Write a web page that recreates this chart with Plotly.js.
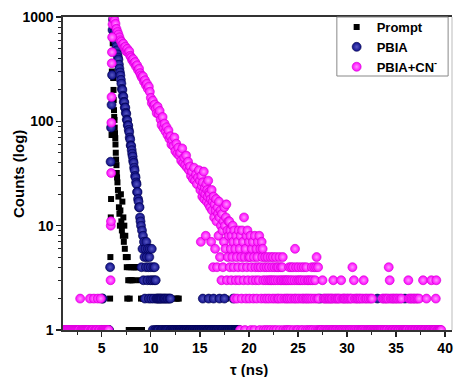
<!DOCTYPE html>
<html><head><meta charset="utf-8">
<script src="https://cdn.plot.ly/plotly-3.0.1.min.js"></script>
<style>html,body{margin:0;padding:0;background:#fff}#chart{width:454px;height:377px}</style>
</head><body><div id="chart"></div>
<script>
// ---------- Series names ----------
const seriesNames = ['Prompt', 'PBIA', 'PBIA+CN<sup>-</sup>'];

// ---------- Prompt (instrument response), explicit time (ns) / counts ----------
const promptT = [5.85,5.88,5.92,5.95,5.98,6.00,6.03,6.05,6.08,6.10,6.12,6.14,6.17,6.20,6.22,6.25,6.27,6.30,6.32,6.35,
  6.38,6.40,6.43,6.46,6.50,6.53,6.56,6.60,6.65,6.70,6.75,6.80,6.85,6.90,6.95,
  7.00,7.05,7.10,7.15,7.20,7.25,7.30,7.35,7.40,7.45,7.50,7.55,7.60,7.65,7.70,7.75,7.80,7.85,7.90,7.95,
  8.00,8.05,8.10,8.15,8.20,8.25,8.30,8.35,8.40,8.45,8.50,8.55,8.60,8.65,8.70,8.75,8.80,8.85,8.90,8.95,
  9.00,9.10,9.20,9.40,10.20,11.00,11.80,12.55,12.70,12.85,17.65];
const promptC = [2,5,12,18,40,74,300,750,1000,700,560,450,260,200,160,128,110,103,87,77,
  69,60,50,43,38,32,29,26,22,19,15,13,10,14,20,
  11,9,17,8,12,7,10,6,8,5,5,4,2,5,3,1,4,2,3,1,
  4,3,1,4,3,1,4,1,4,1,4,1,1,4,1,1,3,1,1,1,
  2,1,2,2,2,2,2,2,2,2,2];

// ---------- PBIA: channels from 5.00 ns every 0.05 ns ----------
const pbiaStart = 5.0, pbiaStep = 0.05;
const pbiaCounts = [
  1,2,2,1,0,1,1,0,1,1,0,1,1,0,1,1,0,4,41,87,
  144,278,750,940,990,900,800,720,640,580,520,480,440,410,390,350,320,295,275,250,
  230,205,200,176,172,154,152,136,135,121,118,104,102,92,91,83,79,70,67,59,
  58,53,49,46,42,40,36,34,30,29,26,25,21,21,18,17,15,15,12,11,
  10,4,9,6,8,3,7,5,2,6,4,7,5,3,6,4,2,5,6,3,
  4,2,6,3,1,4,2,3,4,1,3,2,1,2,1,2,1,2,0,2,
  1,2,1,2,1,0,2,1,2,1,2,1,1,2,1,2,1,0,2,1,
  2,1,1,0,1,1,0,1,1,1,0,1,1,0,1,1,1,0,1,1,
  1,1,0,1,1,1,0,1,1,1,1,0,1,1,1,1,0,1,1,1,
  1,1,1,0,1,1,1,1,0,1,1,1,1,0,1,1,1,1,0,1,
  1,1,0,1,1,1,2,1,1,0,1,1,1,0,1,1,1,1,2,1,
  1,0,1,1,1,1,0,1,2,1,1,1,0,1,1,1,1,0,1,1,
  2,1,1,0,1,1,1,1,0,1,2,1,1,1,0,1,1,1,1,0,
  1,1,1,0,1,1,1,1,2,1,1,0,1,1,1,1,1,0,1,1,
  1];
const pbiaTailT = [27.25, 33.10, 35.90];
const pbiaTailC = [2, 2, 2];

// ---------- PBIA+CN-: 1.0-14.9 ns every 0.1 ns ----------
const cnStartA = 1.0, cnStepA = 0.1;
const cnCountsA = [
  1,1,1,1,1,1,1,1,1,1,
  1,1,1,1,1,1,1,1,2,1,
  1,1,1,1,1,1,1,1,2,1,
  1,1,2,1,1,1,2,1,1,2,
  1,1,1,1,1,1,1,1,0,0,
  0,850,980,930,860,770,720,680,640,600,
  580,545,555,510,520,470,495,455,470,425,
  410,385,395,360,370,335,345,310,320,290,
  275,262,270,240,248,222,230,205,215,192,
  168,150,158,140,145,132,120,138,118,126,
  104,92,110,86,95,80,88,74,82,68,
  72,60,66,58,70,52,61,49,56,47,
  50,42,55,40,45,38,47,36,41,34,
  37,30,33,28,36,27,31,25,29,34];
// ---------- PBIA+CN-: 15.00-40.00 ns every 0.05 ns ----------
const cnStartB = 15.0, cnStepB = 0.05;
const cnCountsB = [
  27,22,7,30,24,19,26,21,33,18,23,20,8,25,17,22,19,27,16,21,
  20,15,18,7,22,14,17,4,19,12,16,6,14,18,11,4,15,13,8,17,
  12,5,14,10,3,13,9,4,11,7,15,10,6,12,16,3,9,5,11,8,
  11,4,9,6,3,8,5,10,7,4,9,2,6,3,8,5,2,7,4,9,
  3,6,1,8,5,2,9,4,7,3,12,5,1,6,2,8,4,9,3,5,
  7,2,5,8,1,4,6,3,7,2,5,1,8,4,3,6,2,5,7,4,
  3,8,1,6,4,2,7,5,6,3,1,4,2,5,3,1,4,2,5,3,
  1,4,2,3,5,1,3,4,2,5,3,1,4,2,3,5,1,4,2,3,
  4,2,5,1,3,4,2,3,4,5,1,3,2,0,3,1,2,3,1,2,
  3,1,4,2,3,1,4,2,3,0,4,1,2,3,6,2,4,1,3,2,
  1,4,3,2,0,3,1,4,2,3,1,2,4,0,3,2,1,4,2,3,
  1,2,3,0,1,2,3,1,4,2,3,1,0,4,2,3,1,4,5,2,
  1,4,2,1,0,1,0,1,1,1,3,0,2,1,0,2,1,2,0,1,
  2,1,0,2,1,2,1,0,2,1,2,1,3,1,2,0,1,2,1,0,
  2,1,2,0,1,2,1,0,3,1,2,1,0,2,1,2,0,1,2,1,
  0,2,1,0,2,1,1,2,0,1,2,4,1,0,3,1,2,1,0,2,
  1,0,2,1,1,2,0,1,2,1,0,1,2,1,3,0,1,2,1,0,
  2,1,0,1,2,1,0,1,2,1,1,2,0,1,1,0,1,1,0,1,
  1,0,1,1,0,1,1,0,1,1,0,1,2,1,0,2,1,1,2,0,
  1,2,1,0,2,4,1,3,1,2,0,1,2,1,1,2,0,1,2,1,
  1,2,0,1,2,1,1,0,2,1,1,2,0,1,1,0,1,1,0,1,
  1,0,1,1,0,3,2,1,1,2,0,1,2,1,1,2,0,1,2,1,
  1,2,0,1,2,1,1,2,0,1,1,0,1,1,0,3,1,1,0,1,
  1,0,2,1,1,0,1,1,0,1,1,0,3,1,1,0,1,1,0,1,
  1,2,3,1,0,1,1,0,1,1,1,0,1,0,0,0,0,0,0,0,
  0];
// rising-edge channels of PBIA+CN- (explicit times)
const cnRiseT = [5.90,5.92,5.94,5.96,5.98,6.00,6.02,6.04,6.06];
const cnRiseC = [3,10,11,32,97,171,360,460,640];

// ---------- Axis ticks ----------
const yTickVals = [1, 10, 100, 1000];
const yTickText = ['1', '10', '100', '1000'];

const clean = a => a.map(v => (v > 0 ? v : null));

const navy = '#0e0e88', navyHi = '#5858c4', navyEdge = '#00004a';
const mag = '#ff00ff', magHi = '#ff96ff', magEdge = '#d000d0';
const sphere = (c, hi, edge) => ({symbol: 'circle', size: 9, color: c,
  gradient: {type: 'radial', color: hi}, line: {width: 0.6, color: edge}});

const traces = [
  {type: 'scatter', mode: 'markers', name: seriesNames[0], x: promptT, y: clean(promptC),
   marker: {symbol: 'square', size: 6, color: '#000'}},
  {type: 'scatter', mode: 'markers', name: seriesNames[1], legendgroup: 'pbia',
   x0: pbiaStart, dx: pbiaStep, y: clean(pbiaCounts), marker: sphere(navy, navyHi, navyEdge)},
  {type: 'scatter', mode: 'markers', name: seriesNames[1], legendgroup: 'pbia', showlegend: false,
   x: pbiaTailT, y: pbiaTailC, marker: sphere(navy, navyHi, navyEdge)},
  {type: 'scatter', mode: 'markers', name: seriesNames[2], legendgroup: 'cn',
   x0: cnStartA, dx: cnStepA, y: clean(cnCountsA), marker: sphere(mag, magHi, magEdge)},
  {type: 'scatter', mode: 'markers', name: seriesNames[2], legendgroup: 'cn', showlegend: false,
   x0: cnStartB, dx: cnStepB, y: clean(cnCountsB), marker: sphere(mag, magHi, magEdge)},
  {type: 'scatter', mode: 'markers', name: seriesNames[2], legendgroup: 'cn', showlegend: false,
   x: cnRiseT, y: cnRiseC, marker: sphere(mag, magHi, magEdge)}
];

const fontFam = '"Liberation Sans", Arial, sans-serif';
const layout = {
  width: 454, height: 377,
  margin: {l: 63, r: 2, t: 17, b: 47, pad: 0},
  paper_bgcolor: '#fff', plot_bgcolor: '#fff',
  showlegend: true,
  font: {family: fontFam, color: '#000'},
  xaxis: {
    range: [1.05, 40.7], tick0: 0, dtick: 5,
    ticks: 'outside', ticklen: 5, tickwidth: 1.3, tickcolor: '#222',
    minor: {dtick: 2.5, tick0: 0, ticks: 'outside', ticklen: 3, tickwidth: 1.1, tickcolor: '#222'},
    showline: true, linecolor: '#333', linewidth: 1.6, mirror: true,
    showgrid: false, zeroline: false,
    tickfont: {family: fontFam, size: 14, weight: 'bold', color: '#000'}
  },
  yaxis: {
    type: 'log', range: [0, 3],
    tickvals: yTickVals, ticktext: yTickText,
    ticks: 'outside', ticklen: 5, tickwidth: 1.3, tickcolor: '#222',
    minor: {dtick: 'D1', ticks: 'outside', ticklen: 3, tickwidth: 1.1, tickcolor: '#222'},
    showline: true, linecolor: '#333', linewidth: 1.6, mirror: false,
    showgrid: false, zeroline: false,
    tickfont: {family: fontFam, size: 14, weight: 'bold', color: '#000'}
  },
  legend: {
    x: 0.976, xanchor: 'right', y: 1.016, yanchor: 'top',
    bgcolor: 'rgba(0,0,0,0)', borderwidth: 0,
    font: {family: fontFam, size: 13, weight: 'bold', color: '#000'},
    tracegroupgap: 0
  },
  shapes: [
    {type: 'line', xref: 'paper', yref: 'paper', x0: 1, x1: 1, y0: 0, y1: 1,
     line: {color: '#bbbbbb', width: 1}},
    {type: 'rect', xref: 'paper', yref: 'paper', x0: 0.704, x1: 0.99, y0: 0.8115, y1: 1,
     fillcolor: '#fff', line: {color: '#888', width: 1}, layer: 'above'}
  ],
  annotations: [
    {xref: 'paper', yref: 'paper', x: 0.478, y: -0.125, xanchor: 'center', yanchor: 'middle',
     text: 'τ (ns)', showarrow: false, font: {family: fontFam, size: 15, weight: 'bold', color: '#000'}},
    {xref: 'paper', yref: 'paper', x: -0.1144, y: 0.5, xanchor: 'center', yanchor: 'middle', textangle: -90,
     text: 'Counts (log)', showarrow: false, font: {family: fontFam, size: 15, weight: 'bold', color: '#000'}}
  ]
};

Plotly.newPlot('chart', traces, layout, {displayModeBar: false, staticPlot: true});
</script></body></html>
